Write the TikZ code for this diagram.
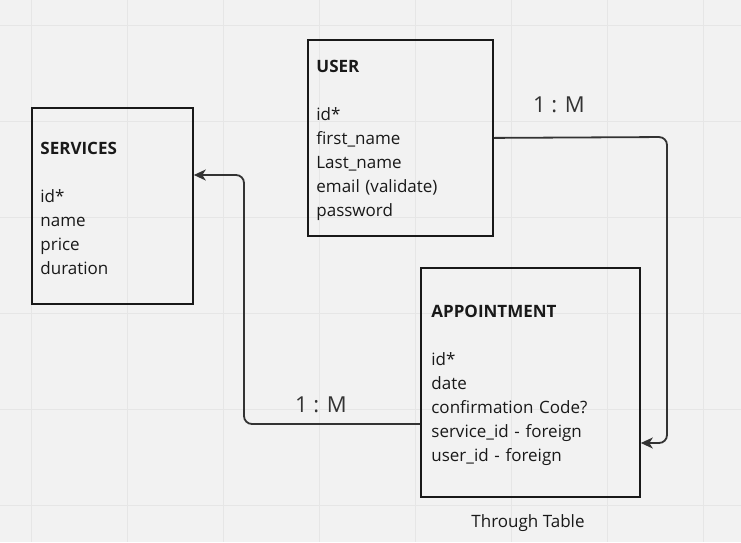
\documentclass[tikz,border=0pt]{standalone}
\usepackage{fontspec}
\setmainfont{Open Sans}
\usetikzlibrary{arrows.meta}
\usetikzlibrary{shapes}

\definecolor{boardgray}{HTML}{F2F2F2}
\definecolor{gridgray}{HTML}{E6E6E6}
\definecolor{inkgray}{HTML}{333333}

\begin{document}
\begin{tikzpicture}[x = 1pt, y = -1pt]
\tikzstyle{TableStyle}=[draw = black!90, line width = 1.8pt, anchor = north west, align = left, inner xsep = 8.5pt, font = \fontsize{17}{24}\selectfont, text = black!90]
\tikzstyle{LinkStyle}=[draw = inkgray, line width = 1.8pt, rounded corners = 8pt, -{Stealth[length = 12pt, width = 11pt, inset = 3.5pt]}]
\tikzstyle{RatioStyle}=[font = \fontsize{22}{26}\selectfont, text = inkgray, anchor = base]
\fill[boardgray] (0,0) rectangle (741,542);
\useasboundingbox (0,0) rectangle (741,542);
\foreach \gx in {31,127,...,703} \draw[gridgray, line width = 1pt] (\gx,0) -- (\gx,542);
\foreach \gy in {25,121,...,505} \draw[gridgray, line width = 1pt] (0,\gy) -- (741,\gy);
\node[TableStyle, minimum width = 161pt, minimum height = 196pt, text width = 144pt] (services) at (31,107)
  {\rule{0pt}{18pt}\textbf{SERVICES}\\[24pt]id*\\name\\price\\duration};
\node[TableStyle, minimum width = 185pt, minimum height = 196pt, text width = 168pt] (user) at (307,39)
  {\rule{0pt}{18pt}\textbf{USER}\\[24pt]id*\\first\_name\\Last\_name\\email (validate)\\password};
\node[TableStyle, minimum width = 218pt, minimum height = 229pt, text width = 198pt, inner xsep = 10.5pt] (appointment) at (420,267)
  {\rule{0pt}{18pt}\textbf{APPOINTMENT}\\[24pt]id*\\date\\confirmation Code?\\service\_id - foreign\\user\_id - foreign};
\node[font = \fontsize{17}{20}\selectfont, text = black!90, anchor = base] (through) at (528,527) {Through Table};
\node[RatioStyle] (ratio1) at (559,112) {1 : M};
\node[RatioStyle] (ratio2) at (321,412) {1 : M};
\draw[LinkStyle] (user.east) -- (667,137) -- (667,443) -- (appointment.east |- 0,443);
\draw[LinkStyle] (appointment.west |- 0,424) -- (244,424) -- (244,175) -- (services.east |- 0,175);
\end{tikzpicture}
\end{document}
